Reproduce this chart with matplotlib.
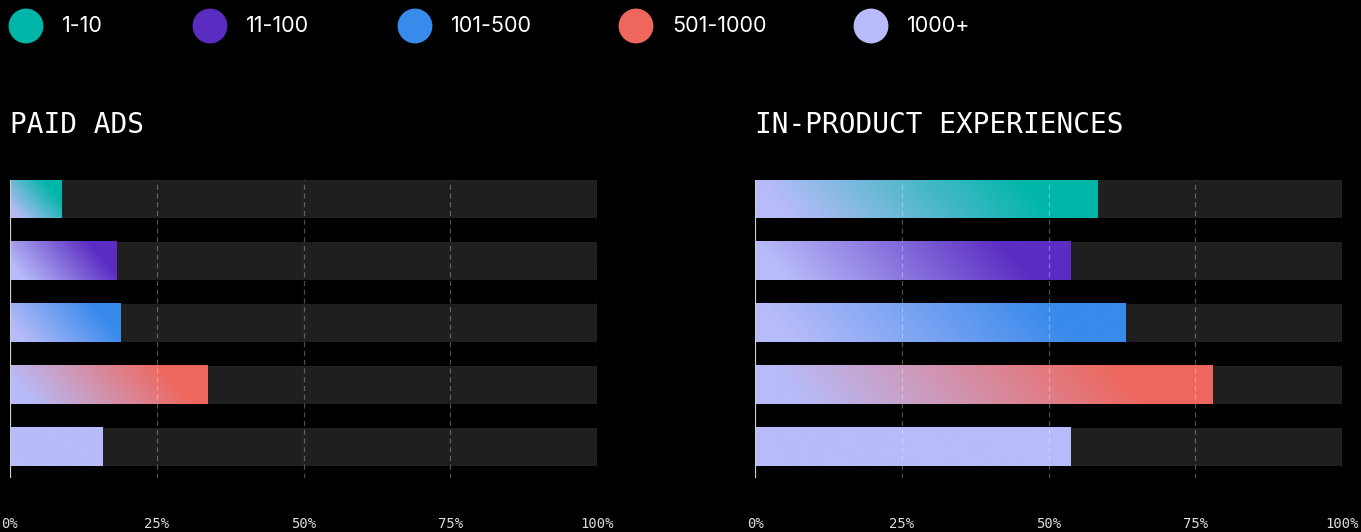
import numpy as np
import matplotlib.pyplot as plt
from matplotlib.colors import to_rgb

# Дані
categories = ['1-10', '11-100', '101-500', '501-1000', '1000+']
colors = ['#00B6A8', '#5B2CC2', '#388AEB', '#EE675D', '#B7BBF9']
panels = ['PAID ADS', 'IN-PRODUCT EXPERIENCES']
paid_ads = [8.7, 18.1, 18.9, 33.7, 15.7]
in_product = [58.4, 53.8, 63.2, 78.0, 53.8]
ticks = [0, 25, 50, 75, 100]
tick_labels = ['0%', '25%', '50%', '75%', '100%']

W, H = 1361, 532
lavender = np.array(to_rgb('#B7BBF9'))
track = '#201F20'
mono = 'DejaVu Sans Mono'

fig = plt.figure(figsize=(W / 100, H / 100), dpi=100, facecolor='black')

# Легенда
lax = fig.add_axes([0, 0, 1, 1])
lax.set_xlim(0, W)
lax.set_ylim(H, 0)
lax.axis('off')
legend_x = [26, 210, 415, 636, 871]
for cx, cat, col in zip(legend_x, categories, colors):
    lax.scatter([cx], [26], s=630, color=col, edgecolors='none')
    lax.text(cx + 36, 26, cat, color='white', fontsize=15.5, family='Inter',
             va='center', ha='left')


def gradient_bar(ax, i, v, col, h=0.613, px_per_unit=5.87, bar_px=38):
    # діагональний градієнт від лавандового до кольору категорії
    wpx = v * px_per_unit
    nx, ny = 300, 30
    xp = np.linspace(0, wpx, nx)
    yp = np.linspace(bar_px, 0, ny)
    X, Y = np.meshgrid(xp, yp)
    th = np.deg2rad(50)
    L = wpx * np.sin(th) + bar_px * np.cos(th)
    t = (X * np.sin(th) + Y * np.cos(th)) / L
    t = np.clip((t - 0.1) / 0.7, 0, 1)[..., None]
    c = np.array(to_rgb(col))
    img = lavender * (1 - t) + c * t
    ax.imshow(img, extent=(0, v, i + h / 2, i - h / 2), aspect='auto',
              interpolation='bilinear', zorder=2)


h = 0.613
for k, (title, vals) in enumerate(zip(panels, [paid_ads, in_product])):
    left = 10 + k * 745
    ax = fig.add_axes([left / W, 1 - 478 / H, 587 / W, 298 / H])
    ax.set_facecolor('black')
    y = np.arange(len(categories))
    ax.barh(y, [100] * len(y), height=h, color=track, zorder=1)
    for i, (v, col) in enumerate(zip(vals, colors)):
        gradient_bar(ax, i, v, col, h=h)
    ax.set_xlim(0, 100)
    ax.set_ylim(4.5, -0.306)
    for t in ticks[1:]:
        ax.axvline(t, color='white', alpha=0.3, lw=0.9, ls=(0, (4, 3)), zorder=3)
    ax.axvline(0, color='#D0D0D0', lw=1.6, zorder=4)
    for s in ax.spines.values():
        s.set_visible(False)
    ax.set_yticks([])
    ax.set_xticks(ticks)
    ax.set_xticklabels(tick_labels, family=mono, fontsize=10, color='#DDDDDD')
    ax.tick_params(axis='x', length=0, pad=28)
    ax.text(0.0, -1.19, title, color='white', fontsize=20, family=mono,
            va='center', ha='left', transform=ax.transData)

fig.savefig('out.png', dpi=100, facecolor='black')
